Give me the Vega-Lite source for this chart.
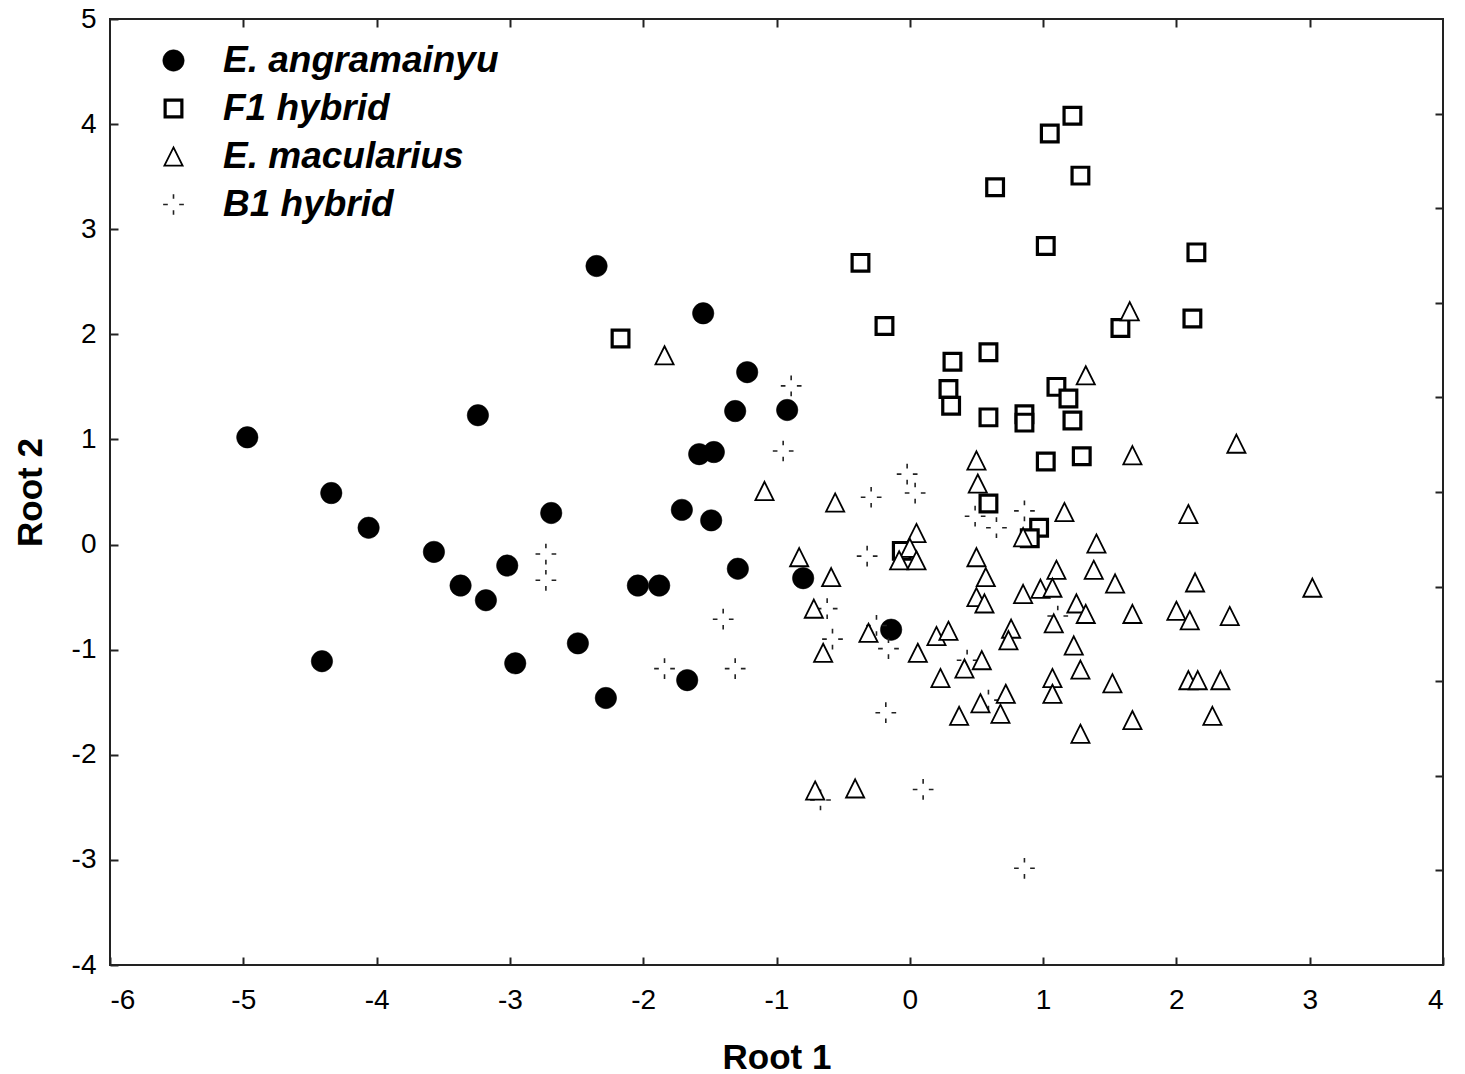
{
  "$schema": "https://vega.github.io/schema/vega-lite/v6.json",
  "width": 1333,
  "height": 946,
  "autosize": {"type": "none"},
  "padding": {"left": 110, "top": 19, "right": 22, "bottom": 109},
  "background": "white",
  "config": {
    "view": {"stroke": "#222", "strokeWidth": 2},
    "font": "Liberation Sans",
    "axis": {
      "domain": false,
      "grid": false,
      "tickColor": "#222",
      "tickWidth": 2,
      "labelFont": "Liberation Sans",
      "labelFontSize": 28,
      "labelColor": "black",
      "titleFont": "Liberation Sans",
      "titleFontSize": 35,
      "titleFontWeight": "bold",
      "titleColor": "black"
    },
    "legend": {
      "orient": "none",
      "legendX": 45,
      "legendY": 23,
      "labelFont": "Liberation Sans",
      "labelFontSize": 37,
      "labelFontStyle": "italic",
      "labelFontWeight": "bold",
      "labelColor": "black",
      "labelOffset": 31,
      "rowPadding": 10,
      "symbolSize": 320,
      "labelLimit": 500
    }
  },
  "data": {
    "values": [
      {"species": "E. angramainyu", "r1": -4.97, "r2": 1.02},
      {"species": "E. angramainyu", "r1": -4.34, "r2": 0.49},
      {"species": "E. angramainyu", "r1": -4.06, "r2": 0.16},
      {"species": "E. angramainyu", "r1": -3.57, "r2": -0.07},
      {"species": "E. angramainyu", "r1": -3.37, "r2": -0.39},
      {"species": "E. angramainyu", "r1": -3.18, "r2": -0.53},
      {"species": "E. angramainyu", "r1": -3.02, "r2": -0.2},
      {"species": "E. angramainyu", "r1": -3.24, "r2": 1.23},
      {"species": "E. angramainyu", "r1": -4.41, "r2": -1.11},
      {"species": "E. angramainyu", "r1": -2.96, "r2": -1.13},
      {"species": "E. angramainyu", "r1": -2.69, "r2": 0.3},
      {"species": "E. angramainyu", "r1": -2.49, "r2": -0.94},
      {"species": "E. angramainyu", "r1": -2.28, "r2": -1.46},
      {"species": "E. angramainyu", "r1": -2.35, "r2": 2.65},
      {"species": "E. angramainyu", "r1": -2.04, "r2": -0.39},
      {"species": "E. angramainyu", "r1": -1.88, "r2": -0.39},
      {"species": "E. angramainyu", "r1": -1.55, "r2": 2.2},
      {"species": "E. angramainyu", "r1": -1.71, "r2": 0.33},
      {"species": "E. angramainyu", "r1": -1.58, "r2": 0.86},
      {"species": "E. angramainyu", "r1": -1.47, "r2": 0.88},
      {"species": "E. angramainyu", "r1": -1.49, "r2": 0.23},
      {"species": "E. angramainyu", "r1": -1.67, "r2": -1.29},
      {"species": "E. angramainyu", "r1": -1.22, "r2": 1.64},
      {"species": "E. angramainyu", "r1": -1.31, "r2": 1.27},
      {"species": "E. angramainyu", "r1": -1.29, "r2": -0.23},
      {"species": "E. angramainyu", "r1": -0.92, "r2": 1.28},
      {"species": "E. angramainyu", "r1": -0.8, "r2": -0.32},
      {"species": "E. angramainyu", "r1": -0.14, "r2": -0.81},
      {"species": "B1 hybrid", "r1": -0.89, "r2": 1.51},
      {"species": "B1 hybrid", "r1": -0.95, "r2": 0.89},
      {"species": "B1 hybrid", "r1": -2.73, "r2": -0.09},
      {"species": "B1 hybrid", "r1": -2.73, "r2": -0.34},
      {"species": "B1 hybrid", "r1": -1.4, "r2": -0.71},
      {"species": "B1 hybrid", "r1": -1.84, "r2": -1.18},
      {"species": "B1 hybrid", "r1": -1.31, "r2": -1.18},
      {"species": "B1 hybrid", "r1": -0.29, "r2": 0.45},
      {"species": "B1 hybrid", "r1": -0.02, "r2": 0.67},
      {"species": "B1 hybrid", "r1": 0.04, "r2": 0.49},
      {"species": "B1 hybrid", "r1": -0.32, "r2": -0.11},
      {"species": "B1 hybrid", "r1": 0.49, "r2": 0.27},
      {"species": "B1 hybrid", "r1": 0.65, "r2": 0.16},
      {"species": "B1 hybrid", "r1": 0.86, "r2": 0.32},
      {"species": "B1 hybrid", "r1": -0.62, "r2": -0.61},
      {"species": "B1 hybrid", "r1": -0.58, "r2": -0.9},
      {"species": "B1 hybrid", "r1": -0.25, "r2": -0.77},
      {"species": "B1 hybrid", "r1": -0.16, "r2": -0.99},
      {"species": "B1 hybrid", "r1": 0.43, "r2": -1.1},
      {"species": "B1 hybrid", "r1": -0.18, "r2": -1.6},
      {"species": "B1 hybrid", "r1": 0.1, "r2": -2.33},
      {"species": "B1 hybrid", "r1": -0.67, "r2": -2.43},
      {"species": "B1 hybrid", "r1": 1.11, "r2": -0.68},
      {"species": "B1 hybrid", "r1": 0.59, "r2": -1.48},
      {"species": "B1 hybrid", "r1": 0.86, "r2": -3.08},
      {"species": "F1 hybrid", "r1": 1.22, "r2": 4.08},
      {"species": "F1 hybrid", "r1": 1.05, "r2": 3.91},
      {"species": "F1 hybrid", "r1": 1.28, "r2": 3.51},
      {"species": "F1 hybrid", "r1": 0.64, "r2": 3.4},
      {"species": "F1 hybrid", "r1": 1.02, "r2": 2.84},
      {"species": "F1 hybrid", "r1": 2.15, "r2": 2.78},
      {"species": "F1 hybrid", "r1": -0.37, "r2": 2.68},
      {"species": "F1 hybrid", "r1": -2.17, "r2": 1.96},
      {"species": "F1 hybrid", "r1": -0.19, "r2": 2.08},
      {"species": "F1 hybrid", "r1": 1.58, "r2": 2.06},
      {"species": "F1 hybrid", "r1": 2.12, "r2": 2.15},
      {"species": "F1 hybrid", "r1": 0.32, "r2": 1.74},
      {"species": "F1 hybrid", "r1": 0.59, "r2": 1.83},
      {"species": "F1 hybrid", "r1": 0.29, "r2": 1.48},
      {"species": "F1 hybrid", "r1": 0.31, "r2": 1.32},
      {"species": "F1 hybrid", "r1": 1.1, "r2": 1.5},
      {"species": "F1 hybrid", "r1": 1.19, "r2": 1.39},
      {"species": "F1 hybrid", "r1": 0.59, "r2": 1.21},
      {"species": "F1 hybrid", "r1": 0.86, "r2": 1.24},
      {"species": "F1 hybrid", "r1": 0.86, "r2": 1.16},
      {"species": "F1 hybrid", "r1": 1.22, "r2": 1.18},
      {"species": "F1 hybrid", "r1": 1.02, "r2": 0.79},
      {"species": "F1 hybrid", "r1": 1.29, "r2": 0.84},
      {"species": "F1 hybrid", "r1": 0.59, "r2": 0.39},
      {"species": "F1 hybrid", "r1": 0.97, "r2": 0.16},
      {"species": "F1 hybrid", "r1": 0.9, "r2": 0.06},
      {"species": "F1 hybrid", "r1": -0.06, "r2": -0.06},
      {"species": "E. macularius", "r1": -1.84, "r2": 1.8},
      {"species": "E. macularius", "r1": 1.65, "r2": 2.22},
      {"species": "E. macularius", "r1": 1.32, "r2": 1.61},
      {"species": "E. macularius", "r1": 2.45, "r2": 0.96},
      {"species": "E. macularius", "r1": -1.09, "r2": 0.51},
      {"species": "E. macularius", "r1": -0.56, "r2": 0.4},
      {"species": "E. macularius", "r1": 0.5, "r2": 0.8},
      {"species": "E. macularius", "r1": 0.51, "r2": 0.58},
      {"species": "E. macularius", "r1": 1.67, "r2": 0.85},
      {"species": "E. macularius", "r1": 2.09, "r2": 0.29},
      {"species": "E. macularius", "r1": 1.16, "r2": 0.31},
      {"species": "E. macularius", "r1": 1.4, "r2": 0.01},
      {"species": "E. macularius", "r1": 0.05, "r2": 0.11},
      {"species": "E. macularius", "r1": 0.0, "r2": -0.03},
      {"species": "E. macularius", "r1": -0.08, "r2": -0.15},
      {"species": "E. macularius", "r1": 0.05, "r2": -0.15},
      {"species": "E. macularius", "r1": -0.83, "r2": -0.12},
      {"species": "E. macularius", "r1": -0.59, "r2": -0.31},
      {"species": "E. macularius", "r1": -0.72, "r2": -0.61},
      {"species": "E. macularius", "r1": 0.5, "r2": -0.12},
      {"species": "E. macularius", "r1": 0.57, "r2": -0.31},
      {"species": "E. macularius", "r1": 0.5, "r2": -0.5},
      {"species": "E. macularius", "r1": 0.56, "r2": -0.56},
      {"species": "E. macularius", "r1": 0.85, "r2": 0.07},
      {"species": "E. macularius", "r1": 1.1, "r2": -0.24},
      {"species": "E. macularius", "r1": 1.38, "r2": -0.24},
      {"species": "E. macularius", "r1": 1.54, "r2": -0.37},
      {"species": "E. macularius", "r1": 0.85, "r2": -0.47},
      {"species": "E. macularius", "r1": 0.98, "r2": -0.42},
      {"species": "E. macularius", "r1": 1.07, "r2": -0.41},
      {"species": "E. macularius", "r1": 2.14, "r2": -0.36},
      {"species": "E. macularius", "r1": 1.25, "r2": -0.56},
      {"species": "E. macularius", "r1": 1.32, "r2": -0.66},
      {"species": "E. macularius", "r1": 1.67, "r2": -0.66},
      {"species": "E. macularius", "r1": 2.0, "r2": -0.63},
      {"species": "E. macularius", "r1": 2.1, "r2": -0.72},
      {"species": "E. macularius", "r1": 2.4, "r2": -0.68},
      {"species": "E. macularius", "r1": 0.76, "r2": -0.8},
      {"species": "E. macularius", "r1": 1.08, "r2": -0.75},
      {"species": "E. macularius", "r1": 0.74, "r2": -0.91},
      {"species": "E. macularius", "r1": 1.23, "r2": -0.96},
      {"species": "E. macularius", "r1": 1.28, "r2": -1.19},
      {"species": "E. macularius", "r1": 1.07, "r2": -1.27},
      {"species": "E. macularius", "r1": 1.07, "r2": -1.42},
      {"species": "E. macularius", "r1": 0.72, "r2": -1.42},
      {"species": "E. macularius", "r1": 1.52, "r2": -1.32},
      {"species": "E. macularius", "r1": 2.09, "r2": -1.29},
      {"species": "E. macularius", "r1": 2.16, "r2": -1.29},
      {"species": "E. macularius", "r1": 2.33, "r2": -1.29},
      {"species": "E. macularius", "r1": 1.67, "r2": -1.67},
      {"species": "E. macularius", "r1": 2.27, "r2": -1.63},
      {"species": "E. macularius", "r1": 1.28, "r2": -1.8},
      {"species": "E. macularius", "r1": 0.68, "r2": -1.61},
      {"species": "E. macularius", "r1": 3.02, "r2": -0.41},
      {"species": "E. macularius", "r1": -0.31, "r2": -0.84},
      {"species": "E. macularius", "r1": -0.65, "r2": -1.03},
      {"species": "E. macularius", "r1": 0.06, "r2": -1.03},
      {"species": "E. macularius", "r1": 0.2, "r2": -0.87},
      {"species": "E. macularius", "r1": 0.29, "r2": -0.82},
      {"species": "E. macularius", "r1": 0.23, "r2": -1.27},
      {"species": "E. macularius", "r1": 0.41, "r2": -1.18},
      {"species": "E. macularius", "r1": 0.54, "r2": -1.1},
      {"species": "E. macularius", "r1": 0.53, "r2": -1.51},
      {"species": "E. macularius", "r1": 0.37, "r2": -1.63},
      {"species": "E. macularius", "r1": -0.71, "r2": -2.34},
      {"species": "E. macularius", "r1": -0.41, "r2": -2.32}
    ]
  },
  "layer": [
    {
      "mark": {"type": "point", "filled": true, "opacity": 1},
      "encoding": {
        "x": {
          "field": "r1", "type": "quantitative",
          "scale": {"domain": [-6, 4], "nice": false, "zero": false},
          "axis": {
            "orient": "bottom", "title": "Root 1",
            "values": [-6, -5, -4, -3, -2, -1, 0, 1, 2, 3, 4],
            "labelExpr": "datum.value < 0 ? '-' + abs(datum.value) : '' + datum.value",
            "tickSize": -8, "labelPadding": 29,
            "titleBaseline": "alphabetic", "titleY": 103
          }
        },
        "y": {
          "field": "r2", "type": "quantitative",
          "scale": {"domain": [-4, 5], "nice": false, "zero": false},
          "axis": {
            "orient": "left", "title": "Root 2",
            "values": [-4, -3, -2, -1, 0, 1, 2, 3, 4, 5],
            "labelExpr": "datum.value < 0 ? '-' + abs(datum.value) : '' + datum.value",
            "tickSize": -8, "labelPadding": 22,
            "titleBaseline": "alphabetic", "titleX": -69
          }
        },
        "shape": {
          "field": "species", "type": "nominal",
          "scale": {
            "domain": ["E. angramainyu", "F1 hybrid", "E. macularius", "B1 hybrid"],
            "range": ["circle", "square", "M0,-1L1,1L-1,1Z", "M-1,0L-0.55,0M0.55,0L1,0M0,-1L0,-0.55M0,0.55L0,1"]
          },
          "legend": {"title": null}
        },
        "fill": {
          "field": "species", "type": "nominal",
          "scale": {
            "domain": ["E. angramainyu", "F1 hybrid", "E. macularius", "B1 hybrid"],
            "range": ["black", "white", "white", "transparent"]
          },
          "legend": {"title": null}
        },
        "stroke": {
          "field": "species", "type": "nominal",
          "scale": {
            "domain": ["E. angramainyu", "F1 hybrid", "E. macularius", "B1 hybrid"],
            "range": ["black", "black", "black", "#222222"]
          },
          "legend": {"title": null}
        },
        "strokeWidth": {
          "field": "species", "type": "nominal",
          "scale": {
            "type": "ordinal",
            "domain": ["E. angramainyu", "F1 hybrid", "E. macularius", "B1 hybrid"],
            "range": [0.5, 3.2, 1.8, 1.6]
          },
          "legend": {"title": null}
        },
        "size": {
          "field": "species", "type": "nominal",
          "scale": {
            "type": "ordinal",
            "domain": ["E. angramainyu", "F1 hybrid", "E. macularius", "B1 hybrid"],
            "range": [460, 280, 330, 430]
          },
          "legend": {"title": null}
        }
      }
    },
    {
      "mark": {"type": "point", "opacity": 0},
      "encoding": {
        "x": {
          "field": "r1", "type": "quantitative",
          "axis": {"orient": "top", "title": null, "labels": false,
                   "values": [-5, -4, -3, -2, -1, 0, 1, 2, 3], "tickSize": -8}
        },
        "y": {
          "field": "r2", "type": "quantitative",
          "axis": {"orient": "right", "title": null, "labels": false,
                   "values": [-3.1, -2.2, -1.3, -0.4, 0.5, 1.4, 2.3, 3.2, 4.1], "tickSize": -8}
        }
      }
    }
  ],
  "resolve": {"axis": {"x": "independent", "y": "independent"}}
}
